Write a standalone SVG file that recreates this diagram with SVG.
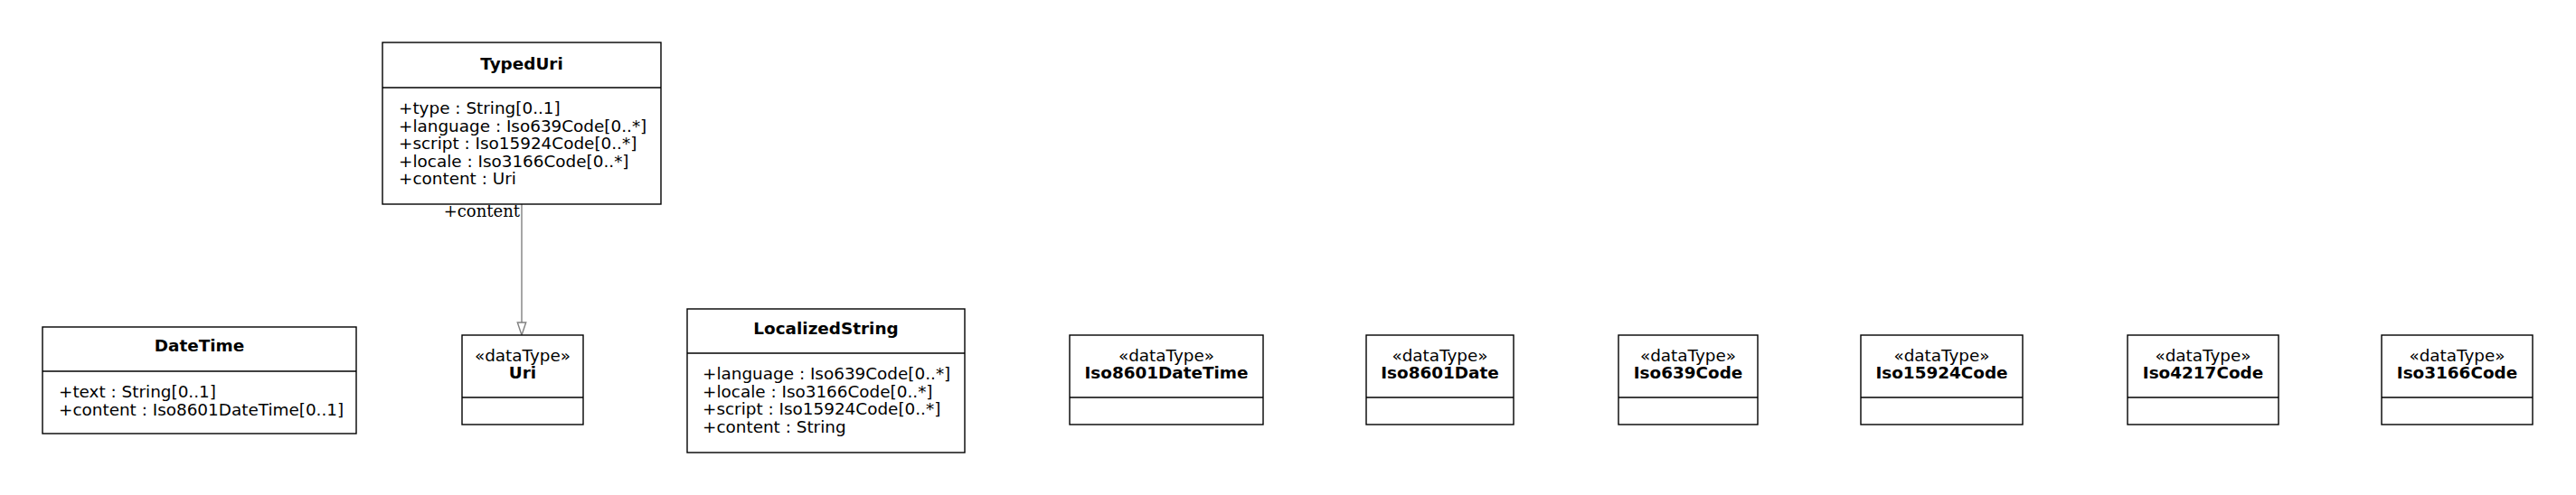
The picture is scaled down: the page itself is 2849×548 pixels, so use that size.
<svg xmlns="http://www.w3.org/2000/svg" width="2849" height="548" viewBox="0 0 2849 548">
<style>
.box{fill:#fff;stroke:#000;stroke-width:1.4}
.div{stroke:#000;stroke-width:1.4}
text{font-family:"DejaVu Sans","Liberation Sans",sans-serif;font-size:18.4px;fill:#000}
.name{font-weight:bold;text-anchor:middle}
.st{text-anchor:middle}
.role{font-family:"DejaVu Serif","Liberation Serif",serif;font-size:18px;text-anchor:end}
.conn{stroke:#808080;stroke-width:1.4;fill:none}
.head{fill:#fff;stroke:#808080;stroke-width:1.4}
</style>
<rect width="2849" height="548" fill="#fff"/>
<g id="connectors">
<line class="conn" x1="577" y1="226" x2="577" y2="357"/>
<polygon class="head" points="577,371 572.3,357 581.7,357"/>
<text class="role" x="575" y="240">+content</text>
</g>
<g id="TypedUri">
<rect class="box" x="423" y="47" width="308" height="179"/>
<line class="div" x1="423" y1="97" x2="731" y2="97"/>
<text class="name" x="577" y="77">TypedUri</text>
<text x="441" y="126">+type : String[0..1]</text>
<text x="441" y="145.5">+language : Iso639Code[0..*]</text>
<text x="441" y="165">+script : Iso15924Code[0..*]</text>
<text x="441" y="184.5">+locale : Iso3166Code[0..*]</text>
<text x="441" y="204">+content : Uri</text>
</g>
<g id="DateTime">
<rect class="box" x="47" y="362" width="347" height="118"/>
<line class="div" x1="47" y1="411" x2="394" y2="411"/>
<text class="name" x="220.5" y="389">DateTime</text>
<text x="65" y="440">+text : String[0..1]</text>
<text x="65" y="460">+content : Iso8601DateTime[0..1]</text>
</g>
<g id="Uri">
<rect class="box" x="511" y="371" width="134" height="99"/>
<line class="div" x1="511" y1="440" x2="645" y2="440"/>
<text class="st" x="578" y="400">«dataType»</text>
<text class="name" x="578" y="419">Uri</text>
</g>
<g id="LocalizedString">
<rect class="box" x="760" y="342" width="307" height="159"/>
<line class="div" x1="760" y1="391" x2="1067" y2="391"/>
<text class="name" x="913.5" y="370">LocalizedString</text>
<text x="777" y="420">+language : Iso639Code[0..*]</text>
<text x="777" y="439.5">+locale : Iso3166Code[0..*]</text>
<text x="777" y="459">+script : Iso15924Code[0..*]</text>
<text x="777" y="478.5">+content : String</text>
</g>
<g id="Iso8601DateTime">
<rect class="box" x="1183" y="371" width="214" height="99"/>
<line class="div" x1="1183" y1="440" x2="1397" y2="440"/>
<text class="st" x="1290" y="400">«dataType»</text>
<text class="name" x="1290" y="419">Iso8601DateTime</text>
</g>
<g id="Iso8601Date">
<rect class="box" x="1511" y="371" width="163" height="99"/>
<line class="div" x1="1511" y1="440" x2="1674" y2="440"/>
<text class="st" x="1592.5" y="400">«dataType»</text>
<text class="name" x="1592.5" y="419">Iso8601Date</text>
</g>
<g id="Iso639Code">
<rect class="box" x="1790" y="371" width="154" height="99"/>
<line class="div" x1="1790" y1="440" x2="1944" y2="440"/>
<text class="st" x="1867" y="400">«dataType»</text>
<text class="name" x="1867" y="419">Iso639Code</text>
</g>
<g id="Iso15924Code">
<rect class="box" x="2058" y="371" width="179" height="99"/>
<line class="div" x1="2058" y1="440" x2="2237" y2="440"/>
<text class="st" x="2147.5" y="400">«dataType»</text>
<text class="name" x="2147.5" y="419">Iso15924Code</text>
</g>
<g id="Iso4217Code">
<rect class="box" x="2353" y="371" width="167" height="99"/>
<line class="div" x1="2353" y1="440" x2="2520" y2="440"/>
<text class="st" x="2436.5" y="400">«dataType»</text>
<text class="name" x="2436.5" y="419">Iso4217Code</text>
</g>
<g id="Iso3166Code">
<rect class="box" x="2634" y="371" width="167" height="99"/>
<line class="div" x1="2634" y1="440" x2="2801" y2="440"/>
<text class="st" x="2717.5" y="400">«dataType»</text>
<text class="name" x="2717.5" y="419">Iso3166Code</text>
</g>
</svg>
